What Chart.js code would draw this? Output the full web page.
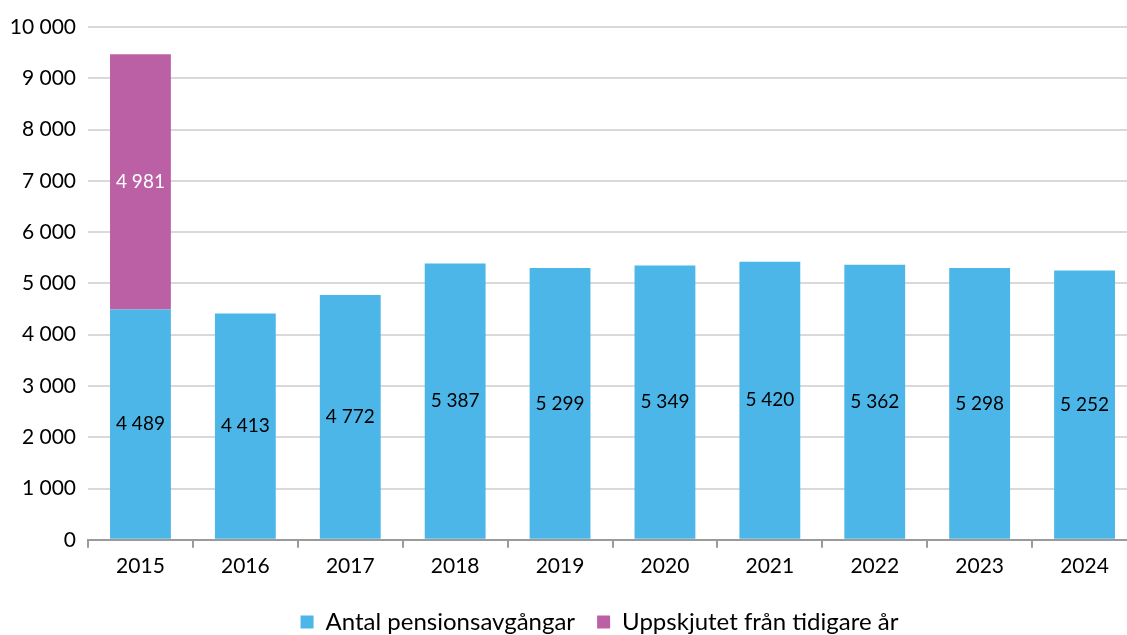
<!DOCTYPE html>
<html><head><meta charset="utf-8">
<script src="https://cdn.jsdelivr.net/npm/chart.js@4.4.1/dist/chart.umd.min.js"></script>
<style>html,body{margin:0;padding:0;background:#fff;overflow:hidden}#wrap{width:1127px;height:635px;overflow:hidden}</style>
</head><body><div id="wrap"><canvas id="c" width="1137" height="635"></canvas></div>
<script>
const categories = ['2015','2016','2017','2018','2019','2020','2021','2022','2023','2024'];
const pensionsavgangar = [4489,4413,4772,5387,5299,5349,5420,5362,5298,5252];
const uppskjutet = [4981,null,null,null,null,null,null,null,null,null];
const seriesNames = ['Antal pensionsavgångar','Uppskjutet från tidigare år'];
const yTicks = [0,1000,2000,3000,4000,5000,6000,7000,8000,9000,10000];

const fmt = v => String(v).replace(/\B(?=(\d{3})+(?!\d))/g, ' ');
const FONT = 'Lato, "Open Sans", sans-serif';

const labelPlugin = {
  id: 'barLabels',
  afterDatasetsDraw(chart) {
    const ctx = chart.ctx;
    ctx.save();
    ctx.font = '19px ' + FONT;
    ctx.textAlign = 'center';
    ctx.textBaseline = 'middle';
    chart.data.datasets.forEach((ds, di) => {
      const meta = chart.getDatasetMeta(di);
      meta.data.forEach((bar, i) => {
        const v = ds.data[i];
        if (v == null) return;
        const mid = (bar.y + bar.base) / 2;
        ctx.fillStyle = di === 0 ? '#000' : '#fff';
        ctx.fillText(fmt(v), bar.x, mid);
      });
    });
    ctx.restore();
  }
};

const legendShift = {
  id: 'legendShift',
  afterLayout(chart) {
    const lg = chart.legend;
    const dx = 31;
    lg.left += dx; lg.right += dx;
    const dy = 616 - (lg.top + lg.height / 2);
    lg.top += dy; lg.bottom += dy;
  }
};

new Chart(document.getElementById('c'), {
  type: 'bar',
  data: {
    labels: categories,
    datasets: [
      { label: seriesNames[0], data: pensionsavgangar, backgroundColor: '#4DB6E8', barPercentage: 0.58, categoryPercentage: 1 },
      { label: seriesNames[1], data: uppskjutet, backgroundColor: '#BC60A6', barPercentage: 0.58, categoryPercentage: 1 }
    ]
  },
  options: {
    responsive: false,
    animation: false,
    layout: { padding: { top: 27, right: 0, left: 0, bottom: -6 } },
    plugins: {
      legend: {
        position: 'bottom',
        labels: { boxWidth: 13, boxHeight: 13, font: { size: 24, family: FONT }, color: '#000', padding: 22 }
      },
      tooltip: { enabled: false }
    },
    scales: {
      x: {
        stacked: true,
        grid: { drawOnChartArea: false, drawTicks: true, tickLength: 8, color: '#9a9a9a', lineWidth: 2, offset: true },
        border: { color: '#9a9a9a', width: 2 },
        ticks: { color: '#000', font: { size: 21, family: FONT }, padding: 6 }
      },
      y: {
        stacked: true,
        min: 0, max: 10000,
        afterFit(s) { s.width = 88; },
        afterBuildTicks(s) { s.ticks = yTicks.map(v => ({ value: v })); },
        grid: { color: '#d9d9d9', lineWidth: 2, drawTicks: false },
        border: { display: false },
        ticks: { color: '#000', font: { size: 21, family: FONT }, padding: 12, callback: v => fmt(v) }
      }
    }
  },
  plugins: [labelPlugin, legendShift]
});
</script></body></html>
